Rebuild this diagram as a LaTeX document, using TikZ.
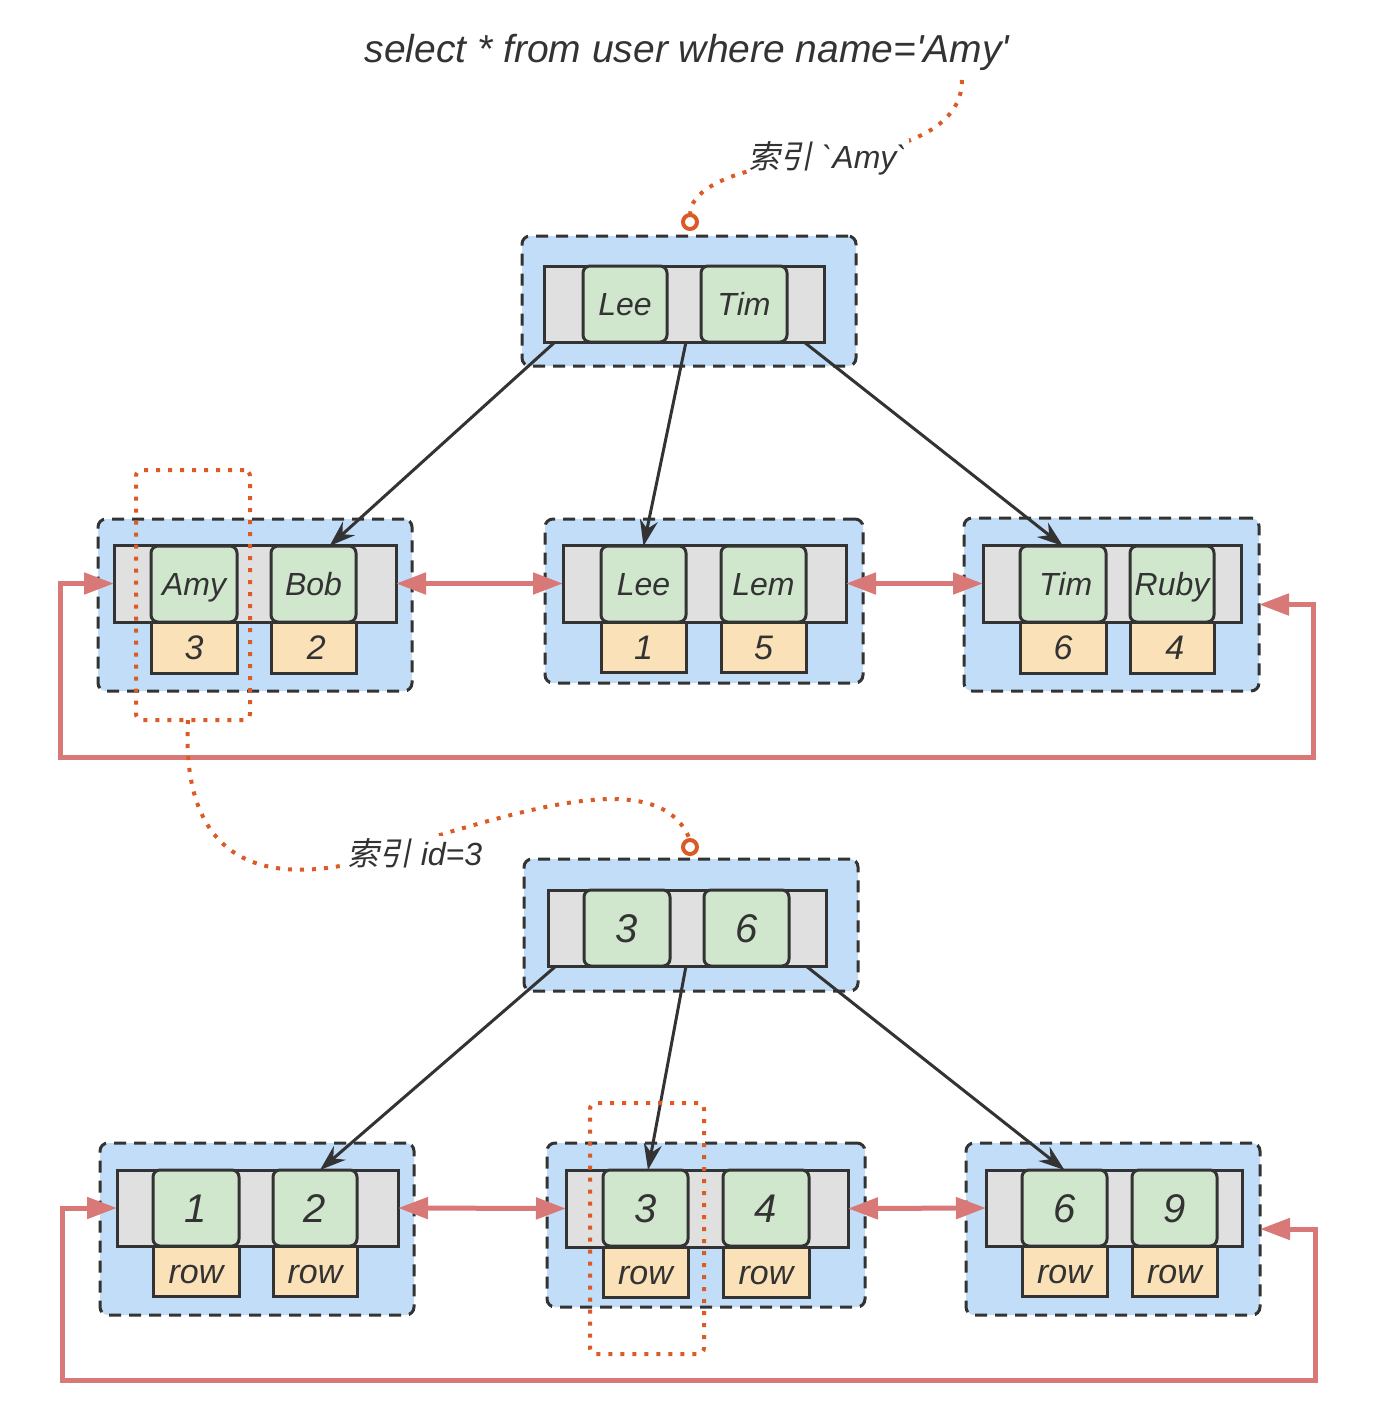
\documentclass[tikz,border=0pt]{standalone}
\usepackage{fontspec}
\setmainfont{Liberation Sans}[Ligatures=TeXOff]
\newfontfamily\cjkfont[FakeSlant=0.2]{Noto Sans CJK SC}
\usetikzlibrary{arrows.meta,calc}
\definecolor{dk}{HTML}{333333}
\definecolor{blueF}{HTML}{C2DDF7}
\definecolor{grayF}{HTML}{E0E0E0}
\definecolor{greenF}{HTML}{D0E6CD}
\definecolor{orangeF}{HTML}{FBE1B8}
\definecolor{redL}{HTML}{D87977}
\definecolor{orgD}{HTML}{DA5B26}
\begin{document}
\begin{tikzpicture}[x=0.5pt,y=-0.5pt,
 every node/.style={inner sep=0pt,outer sep=0pt,text=dk},
 sz/.style 2 args={minimum width={(#1)*0.5pt},minimum height={(#2)*0.5pt}},
 outerbox/.style={draw=dk,line width=1.5pt,dash pattern=on 6pt off 4pt,fill=blueF,rounded corners=4pt},
 barbox/.style={draw=dk,line width=1.5pt,fill=grayF},
 keybox/.style={draw=dk,line width=1.5pt,fill=greenF,rounded corners=3.5pt,font=\itshape\fontsize{16}{16}\selectfont,text height=11.5pt,text depth=0pt},
 bigkey/.style={keybox,font=\itshape\fontsize{20}{20}\selectfont,text height=14.3pt},
 valbox/.style={draw=dk,line width=1.5pt,fill=orangeF,font=\itshape\fontsize{17}{17}\selectfont,text height=12pt,text depth=0pt},
 ptr/.style={draw=dk,line width=1.5pt,-{Stealth[length=13pt,width=9pt]}},
 link/.style={draw=redL,line width=2.5pt,{Triangle[length=15pt,width=10.5pt]}-{Triangle[length=15pt,width=10.5pt]}},
 hint/.style={draw=orgD,line width=2pt,dash pattern=on 2pt off 4pt},
 pin/.style={circle,draw=orgD,line width=2pt,fill=white,minimum size=7pt},
 lbl/.style={fill=white,font=\itshape\fontsize{16}{16}\selectfont,inner sep=1pt}
]
\path[use as bounding box] (0,0) rectangle (1394,1404);

% ---------- tree 1 ----------
\node[outerbox,sz={334}{130}] (r1o) at (689,301) {};
\node[barbox,sz={280}{76}] (r1b) at (684,304) {};
\node[keybox,sz={84}{76}] (r1k1) at (625,304) {Lee};
\node[keybox,sz={86}{76}] (r1k2) at (744,304) {Tim};

\node[outerbox,sz={314}{172}] (a1o) at (255,605) {};
\node[barbox,sz={282}{77}] (a1b) at (255,583.5) {};
\node[keybox,sz={86}{76}] (a1k1) at (194,584) {Amy};
\node[keybox,sz={85}{76}] (a1k2) at (313.5,584) {Bob};
\node[valbox,sz={86}{51}] (a1v1) at (194,647.5) {3};
\node[valbox,sz={85}{51}] (a1v2) at (313.5,647.5) {\,2};

\node[outerbox,sz={318}{164}] (b1o) at (704,601) {};
\node[barbox,sz={283}{77}] (b1b) at (704.5,583.5) {};
\node[keybox,sz={85}{76}] (b1k1) at (643.5,584) {Lee};
\node[keybox,sz={85}{76}] (b1k2) at (763.5,584) {Lem};
\node[valbox,sz={85}{50}] (b1v1) at (643.5,647) {1};
\node[valbox,sz={85}{50}] (b1v2) at (763.5,647) {5};

\node[outerbox,sz={295}{173}] (c1o) at (1111.5,604.5) {};
\node[barbox,sz={258}{77}] (c1b) at (1112,583.5) {};
\node[keybox,sz={86}{76}] (c1k1) at (1063,584) {\,Tim};
\node[keybox,sz={84}{76}] (c1k2) at (1172,584) {Ruby};
\node[valbox,sz={86}{51}] (c1v1) at (1063,647.5) {6};
\node[valbox,sz={84}{51}] (c1v2) at (1172,647.5) {\,4};

% ---------- tree 2 ----------
\node[outerbox,sz={334}{132}] (r2o) at (691,925) {};
\node[barbox,sz={278}{76}] (r2b) at (687,928) {};
\node[bigkey,sz={86}{76}] (r2k1) at (627,928) {3};
\node[bigkey,sz={85}{76}] (r2k2) at (746.5,928) {6};

\node[outerbox,sz={314}{172}] (a2o) at (257,1229) {};
\node[barbox,sz={281}{76}] (a2b) at (257.5,1208) {};
\node[bigkey,sz={86}{76}] (a2k1) at (196,1208) {1};
\node[bigkey,sz={84}{76}] (a2k2) at (315,1208) {2};
\node[valbox,sz={86}{50}] (a2v1) at (196,1271) {row};
\node[valbox,sz={84}{50}] (a2v2) at (315,1271) {row};

\node[outerbox,sz={318}{164}] (b2o) at (706,1225) {};
\node[barbox,sz={282}{77}] (b2b) at (707,1208.5) {};
\node[bigkey,sz={85}{76}] (b2k1) at (645.5,1208) {3};
\node[bigkey,sz={86}{76}] (b2k2) at (766,1208) {4};
\node[valbox,sz={85}{50}] (b2v1) at (645.5,1272) {row};
\node[valbox,sz={86}{50}] (b2v2) at (766,1272) {row};

\node[outerbox,sz={294}{172}] (c2o) at (1113,1229) {};
\node[barbox,sz={256}{76}] (c2b) at (1114,1208) {};
\node[bigkey,sz={85}{76}] (c2k1) at (1064.5,1208) {6};
\node[bigkey,sz={85}{76}] (c2k2) at (1174.5,1208) {9};
\node[valbox,sz={85}{50}] (c2v1) at (1064.5,1271) {row};
\node[valbox,sz={85}{50}] (c2v2) at (1174.5,1271) {row};

% ---------- pointers ----------
\draw[ptr] ($(r1b.south west)+(11,0)$) -- ($(a1k2.north)+(16,0)$);
\draw[ptr] ($(r1b.south)+(2,0)$) -- (b1k1.north);
\draw[ptr] ($(r1b.south east)+(-20,0)$) -- (c1k1.north);
\draw[ptr] ($(r2b.south west)+(8,0)$) -- ($(a2k2.north)+(5,0)$);
\draw[ptr] ($(r2b.south)+(-1,0)$) -- ($(b2k1.north)+(2.5,0)$);
\draw[ptr] ($(r2b.south east)+(-20,0)$) -- (c2k1.north);

% ---------- leaf links ----------
\draw[link] (a1b.east) -- (b1b.west);
\draw[link] (b1b.east) -- (c1b.west);
\draw[link] (c1o.east) -- (1313,604.5) -- (1313,757) -- (60,757) |- (a1b.west);
\draw[link] (a2b.east) -- (b2b.west);
\draw[link] (b2b.east) -- (c2b.west);
\draw[link] (c2o.east) -- (1315,1229) -- (1315,1380) -- (62,1380) |- (a2b.west);

% ---------- highlights ----------
\node[hint,sz={114}{250},rounded corners=3pt] (d1) at (193,595) {};
\node[hint,sz={114}{251},rounded corners=3pt] (d2) at (647,1228.5) {};

\node[font=\itshape\fontsize{19.5}{19.5}\selectfont] (q) at (687,52) {select * from user where name='Amy'};
\coordinate (qa) at (962,80);
\node[pin] (p1) at (690,222) {};
\node[pin] (p2) at (690,847) {};

\draw[hint] (qa) .. controls (962,130) and (900,150) .. (830,158) .. controls (745,165) and (690,185) .. (p1.north);
\draw[hint] ($(d1.south)+(-5,0)$) .. controls (182,830) and (230,885) .. (340,866) .. controls (380,858) and (420,840) .. (460,829) .. controls (560,800) and (665,775) .. (p2.north);

\node[lbl] (l1) at (828,158) {{\cjkfont\upshape 索引} `Amy`};
\node[lbl] (l2) at (415,853) {{\cjkfont\upshape 索引} id=3};
\end{tikzpicture}
\end{document}
